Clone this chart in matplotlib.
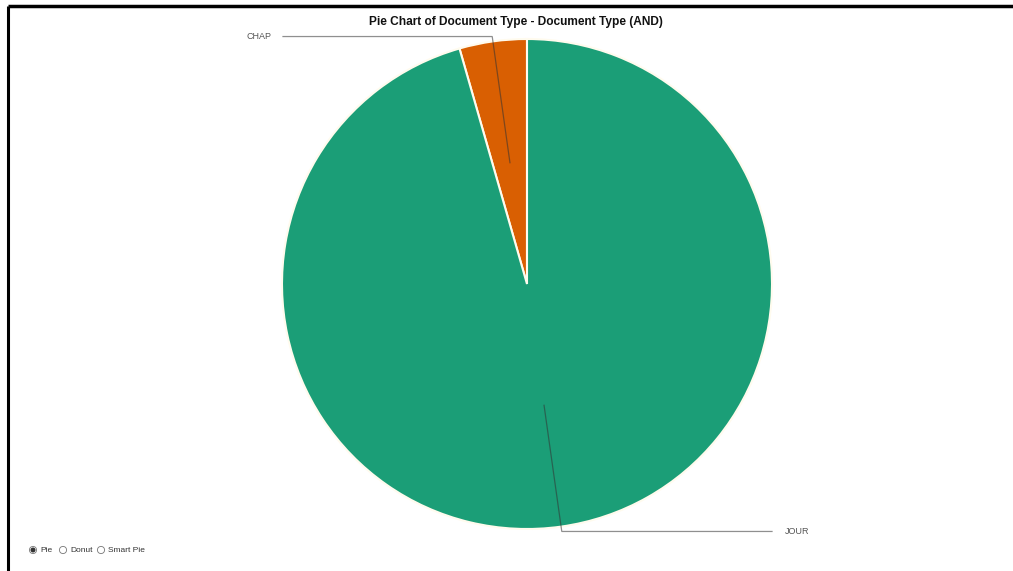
import numpy as np
import matplotlib as mpl
import matplotlib.pyplot as plt

mpl.rcParams['font.family'] = ['Liberation Sans', 'DejaVu Sans']

# document type counts
doc_types = ["CHAP", "JOUR"]
doc_counts = [2, 43]
colors = ["#d95f02", "#1b9e77"]

W, H = 1013, 571
fig = plt.figure(figsize=(W / 100, H / 100), dpi=100)
ax = fig.add_axes([0, 0, 1, 1])

# pixel-like coordinates, y measured upward
cx, cy, R = 527, H - 284, 245
wedges, _ = ax.pie(doc_counts, colors=colors, startangle=90, counterclock=True,
                   center=(cx, cy), radius=R,
                   wedgeprops=dict(edgecolor="#fffbee", linewidth=1.5))
ax.set_xlim(0, W)
ax.set_ylim(0, H)
ax.set_aspect('equal')
ax.axis('off')

# leader lines from the middle of each wedge out to its label
label_x = {"CHAP": 283, "JOUR": 772}
for w, name in zip(wedges, doc_types):
    mid = np.deg2rad((w.theta1 + w.theta2) / 2)
    x0, y0 = cx + 0.5 * R * np.cos(mid), cy + 0.5 * R * np.sin(mid)
    x1, y1 = cx + 1.02 * R * np.cos(mid), cy + 1.02 * R * np.sin(mid)
    lx = label_x[name]
    ax.plot([x0, x1, lx], [y0, y1, y1], color="#333333", lw=0.9, alpha=0.55,
            solid_joinstyle='miter')
    if lx < x1:
        ax.text(lx - 12, y1, name, ha="right", va="center", fontsize=6.5, color="#555555")
    else:
        ax.text(lx + 13, y1, name, ha="left", va="center", fontsize=6.5, color="#555555")

ax.text(516, H - 22, "Pie Chart of Document Type - Document Type (AND)",
        ha="center", va="center", fontsize=8.6, fontweight="bold", color="#111111")

# chart type selector
options = ["Pie", "Donut", "Smart Pie"]
opt_x = [33, 63, 101]
for i, (name, ox) in enumerate(zip(options, opt_x)):
    oy = H - 550
    ax.add_patch(plt.Circle((ox, oy), 3.6, facecolor="white", edgecolor="#777777", lw=0.6))
    if i == 0:
        ax.add_patch(plt.Circle((ox, oy), 1.8, color="#333333"))
    ax.text(ox + 7, oy, name, ha="left", va="center", fontsize=6, color="#333333")

# frame around the panel
ax.plot([8, W], [H - 6, H - 6], color="black", lw=2.5, solid_capstyle='butt')
ax.plot([8, 8], [0, H - 6], color="black", lw=2.2, solid_capstyle='butt')

fig.savefig("out.png", dpi=100)
